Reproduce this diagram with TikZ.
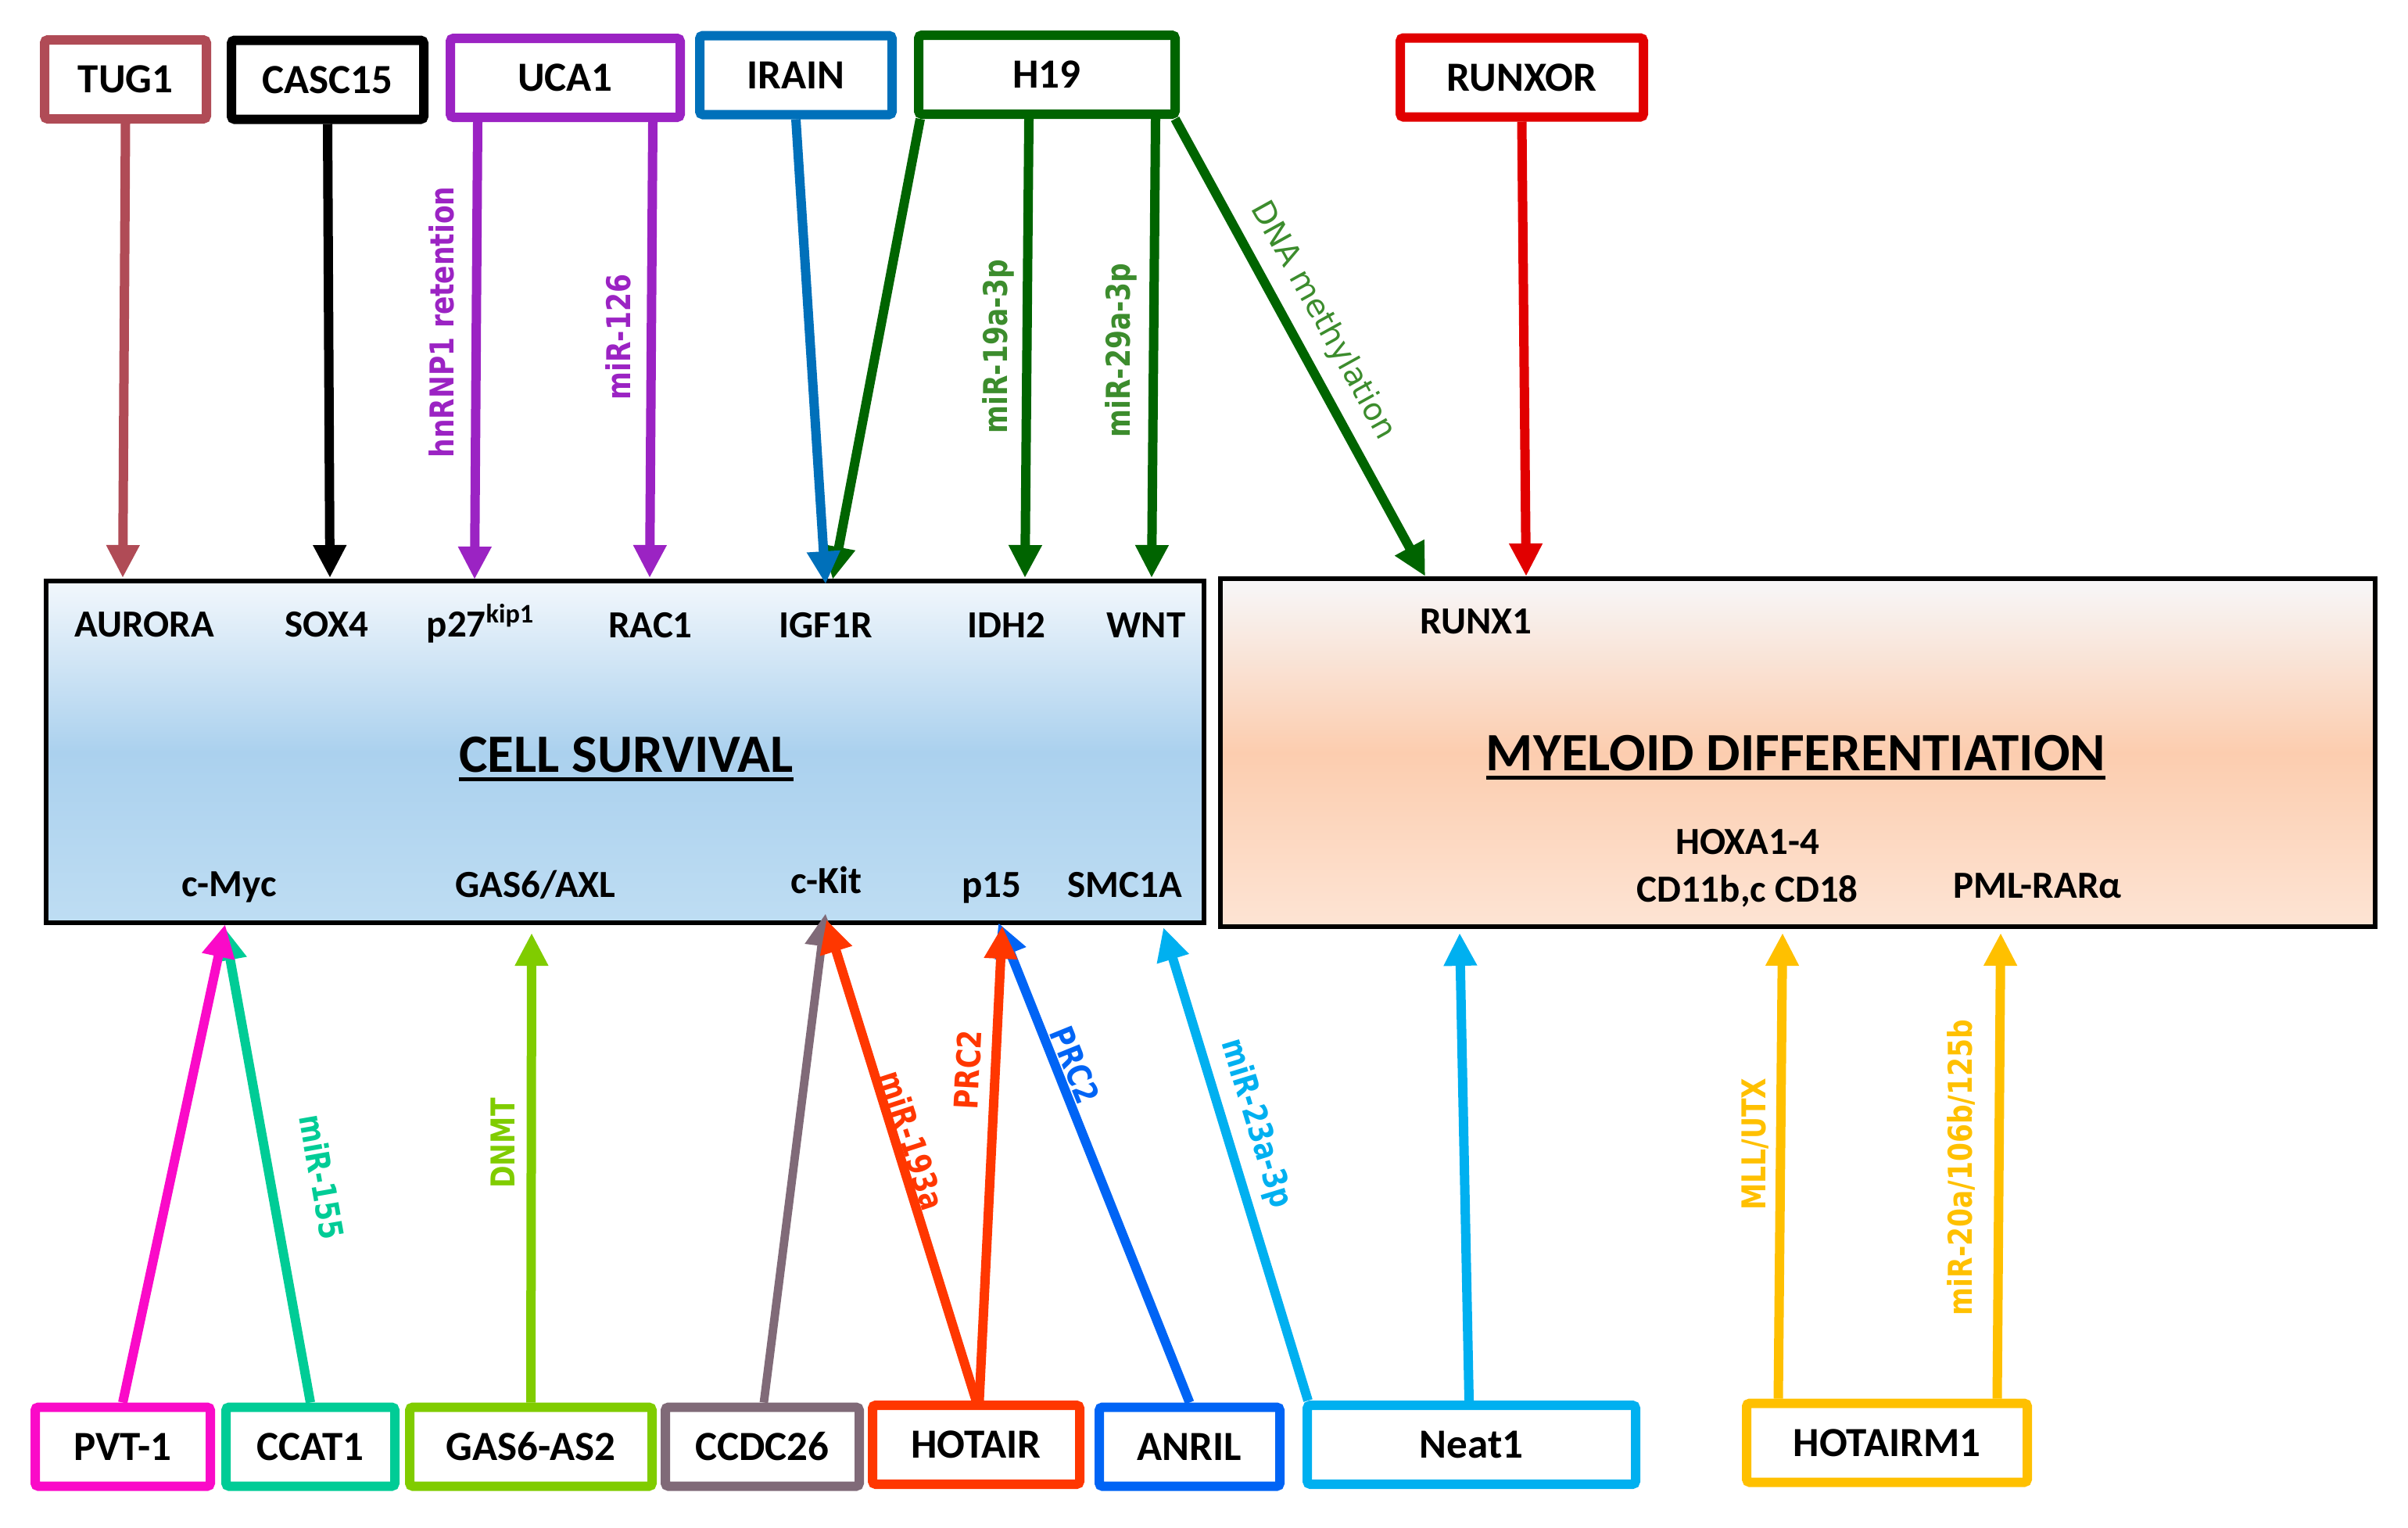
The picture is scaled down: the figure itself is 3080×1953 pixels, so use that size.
\documentclass[tikz,border=0pt]{standalone}
\usepackage{fontspec}
\setmainfont{Carlito}
\newfontfamily\lblfont{DejaVu Sans}
\usepackage{graphicx}
\usetikzlibrary{arrows.meta}
\usetikzlibrary{calc}

\definecolor{tugcol}{RGB}{176,75,86}
\definecolor{ucacol}{RGB}{155,35,195}
\definecolor{iraincol}{RGB}{0,112,186}
\definecolor{hcol}{RGB}{0,100,0}
\definecolor{hlbl}{RGB}{60,140,45}
\definecolor{runxcol}{RGB}{225,0,0}
\definecolor{pvtcol}{RGB}{250,10,200}
\definecolor{ccatcol}{RGB}{0,204,150}
\definecolor{gascol}{RGB}{128,204,0}
\definecolor{ccdccol}{RGB}{128,106,120}
\definecolor{hotcol}{RGB}{255,55,0}
\definecolor{anrilcol}{RGB}{0,100,245}
\definecolor{neatcol}{RGB}{0,176,240}
\definecolor{hmcol}{RGB}{255,192,0}
\definecolor{survtop}{RGB}{242,247,252}
\definecolor{survmid}{RGB}{171,209,238}
\definecolor{survbot}{RGB}{190,221,243}
\definecolor{myetop}{RGB}{247,247,249}
\definecolor{myemid}{RGB}{252,205,175}
\definecolor{myebot}{RGB}{253,228,212}

\newcommand\boxfont{\fontsize{13.25pt}{14pt}\selectfont\bfseries}
\newcommand\genefont{\fontsize{12.25pt}{13pt}\selectfont\bfseries}
\newcommand\titlefont{\fontsize{17.25pt}{18pt}\selectfont\bfseries}
\newcommand\mirfont{\lblfont\fontsize{10.5pt}{11pt}\selectfont\bfseries}
\newcommand\squeeze[1]{\scalebox{0.82}[1]{#1}}
\newcommand\thickul[1]{\vtop{\hbox{#1}\kern1.5pt\hrule height 1.25pt}}

\tikzset{lbl/.style={text=#1, font=\mirfont, inner sep=0pt}}

\begin{document}
\begin{tikzpicture}[x=0.25pt,y=-0.25pt]
	\useasboundingbox (0,0) rectangle (3080,1953);

	% outcome boxes
	\begin{scope}[every node/.style={draw=black, line width=1.5pt, inner sep=0pt}]
		\node[minimum width=370.25pt, minimum height=109.25pt, top color=survtop, bottom color=survbot, middle color=survmid] (survival) at (799.5,961.5) {};
		\node[minimum width=369.25pt, minimum height=111.25pt, top color=myetop, bottom color=myebot, middle color=myemid] (myeloid) at (2299.5,962.5) {};
	\end{scope}

	\node[font=\titlefont, anchor=base] (survtitle) at (801,987) {\thickul{CELL SURVIVAL}};
	\node[font=\titlefont, anchor=base] (myetitle) at (2297,985) {\thickul{MYELOID DIFFERENTIATION}};

	% targets
	\begin{scope}[every node/.style={font=\genefont, anchor=base, inner sep=0pt}]
		\node (aurora) at (185,814) {AURORA};
		\node (sox4) at (418,814) {SOX4};
		\node (p27) at (615,814) {p27\textsuperscript{kip1}};
		\node (rac1) at (832,815) {RAC1};
		\node (igf1r) at (1056,815) {IGF1R};
		\node (idh2) at (1287,815) {IDH2};
		\node (wnt) at (1466,815) {WNT};
		\node (runx1) at (1888,810) {RUNX1};
		\node (cmyc) at (293,1146) {c-Myc};
		\node (gas6) at (685,1147) {GAS6/AXL};
		\node (ckit) at (1057,1142) {c-Kit};
		\node (p15) at (1268,1147) {p15};
		\node (smc1a) at (1439,1147) {SMC1A};
		\node (hoxa) at (2235,1092) {HOXA1-4};
		\node (cd11) at (2235,1153) {CD11b,c CD18};
		\node (pml) at (2606,1148) {PML-RARα};
	\end{scope}

	% lncRNAs
	\begin{scope}[every node/.style={fill=white, line width=3pt, rounded corners=1pt, minimum height=25.25pt, inner sep=0pt, font=\boxfont}]
		\node[draw=tugcol, minimum width=51.75pt] (tug1) at (160.5,101.5) {TUG1};
		\node[draw=black, minimum width=61.5pt] (casc15) at (419,102) {CASC15};
		\node[draw=ucacol, minimum width=73.5pt] (uca1) at (723,99.5) {UCA1};
		\node[draw=iraincol, minimum width=61.5pt] (irain) at (1018,96) {IRAIN};
		\node[draw=hcol, minimum width=82pt] (h19) at (1339,95.5) {H19};
		\node[draw=runxcol, minimum width=77.75pt] (runxor) at (1946.5,99) {RUNXOR};
		\node[draw=pvtcol, minimum width=56pt] (pvt1) at (157,1850) {PVT-1};
		\node[draw=ccatcol, minimum width=54pt] (ccat1) at (397,1850) {CCAT1};
		\node[draw=gascol, minimum width=77.5pt] (gas6as2) at (679,1850) {GAS6-AS2};
		\node[draw=ccdccol, minimum width=62pt] (ccdc26) at (975,1850) {CCDC26};
		\node[draw=hotcol, minimum width=66.25pt] (hotair) at (1248.5,1847.5) {HOTAIR};
		\node[draw=anrilcol, minimum width=57.75pt] (anril) at (1521.5,1850) {ANRIL};
		\node[draw=neatcol, minimum width=105pt] (neat1) at (1882,1847.5) {Neat1};
		\node[draw=hmcol, minimum width=89.75pt] (hotairm1) at (2413.5,1845) {HOTAIRM1};
	\end{scope}

	% arrow ends on the boxes
	\coordinate (aurora-in) at (157,739);
	\coordinate (sox4-in) at (422,739);
	\coordinate (p27-in) at (607,741);
	\coordinate (rac1-in) at (831,739);
	\coordinate (igf1r-in-a) at (1056,747);
	\coordinate (igf1r-in-b) at (1065,741);
	\coordinate (idh2-in) at (1311,739);
	\coordinate (wnt-in) at (1473,739);
	\coordinate (runx1-in-a) at (1823,737);
	\coordinate (runx1-in-b) at (1952,737);
	\coordinate (cmyc-in-a) at (288,1182);
	\coordinate (cmyc-in-b) at (287,1186);
	\coordinate (gas6-in) at (680,1193);
	\coordinate (ckit-in-a) at (1056,1168);
	\coordinate (ckit-in-b) at (1057,1176);
	\coordinate (p15-in-a) at (1282,1184);
	\coordinate (p15-in-b) at (1277,1180);
	\coordinate (smc1a-in) at (1488,1186);
	\coordinate (myeloid-in) at (1867,1193);
	\coordinate (hoxa-in) at (2280,1193);
	\coordinate (pml-in) at (2559,1193);

	\begin{scope}[every edge/.style={draw, line width=3pt, -{Triangle[length=10.5pt,width=10pt]}}]
		\path (tug1.south) edge[tugcol] (aurora-in);
		\path (casc15.south) edge[black] (sox4-in);
		\path ($(uca1.south)+(-112,0)$) edge[ucacol] (p27-in);
		\path ($(uca1.south)+(112,0)$) edge[ucacol] (rac1-in);
		\path ($(h19.south)+(-162,0)$) edge[hcol] (igf1r-in-b);
		\path (irain.south) edge[iraincol] (igf1r-in-a);
		\path ($(h19.south)+(-23,0)$) edge[hcol] (idh2-in);
		\path ($(h19.south)+(139,0)$) edge[hcol] (wnt-in);
		\path ($(h19.south east)+(-6,0)$) edge[hcol] (runx1-in-a);
		\path (runxor.south) edge[runxcol] (runx1-in-b);
		\path (ccat1.north) edge[ccatcol] (cmyc-in-b);
		\path (pvt1.north) edge[pvtcol] (cmyc-in-a);
		\path (gas6as2.north) edge[gascol] (gas6-in);
		\path ($(ccdc26.north)+(2,0)$) edge[ccdccol, line width=2.7pt] (ckit-in-a);
		\path (hotair.north) edge[hotcol] (ckit-in-b);
		\path (anril.north) edge[anrilcol] (p15-in-b);
		\path ($(hotair.north)+(4,0)$) edge[hotcol] (p15-in-a);
		\path ($(neat1.north west)+(7,0)$) edge[neatcol] (smc1a-in);
		\path ($(neat1.north)+(-3,0)$) edge[neatcol] (myeloid-in);
		\path ($(hotairm1.north)+(-139,0)$) edge[hmcol] (hoxa-in);
		\path ($(hotairm1.north)+(141,0)$) edge[hmcol] (pml-in);
	\end{scope}

	% mechanisms
	\node[lbl=ucacol, rotate=90] (hnrnp) at (565,412) {\squeeze{hnRNP1 retention}};
	\node[lbl=ucacol, rotate=90] (mir126) at (791,431) {\squeeze{miR-126}};
	\node[lbl=hlbl, rotate=90] (mir19) at (1277,443) {\squeeze{miR-19a-3p}};
	\node[lbl=hlbl, rotate=90] (mir29) at (1434,448) {\squeeze{miR-29a-3p}};
	\node[lbl=hlbl, font=\lblfont\fontsize{10pt}{11pt}\selectfont, rotate=-61] (dnameth) at (1692,410) {DNA methylation};
	\node[lbl=ccatcol, rotate=-80] (mir155) at (412,1505) {\squeeze{miR-155}};
	\node[lbl=gascol, rotate=90] (dnmt) at (643,1462) {\squeeze{DNMT}};
	\node[lbl=hotcol, rotate=-72] (mir193) at (1167,1458) {\squeeze{miR-193a}};
	\node[lbl=hotcol, rotate=87] (prc2a) at (1238,1368) {\squeeze{PRC2}};
	\node[lbl=anrilcol, rotate=-68] (prc2b) at (1375,1362) {\squeeze{PRC2}};
	\node[lbl=neatcol, rotate=-73] (mir23) at (1606,1437) {\squeeze{miR-23a-3p}};
	\node[lbl=hmcol, rotate=90] (mll) at (2245,1463) {\squeeze{MLL/UTX}};
	\node[lbl=hmcol, rotate=90] (mir20) at (2508,1493) {\squeeze{miR-20a/106b/125b}};
\end{tikzpicture}
\end{document}
